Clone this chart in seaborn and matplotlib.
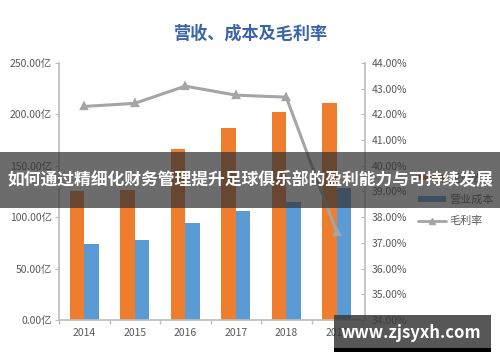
import matplotlib
matplotlib.use("Agg")
import matplotlib.pyplot as plt
from matplotlib.patches import Rectangle, Patch
from matplotlib.lines import Line2D
from matplotlib.ticker import FuncFormatter, MultipleLocator
import pandas as pd
import seaborn as sns

# 数据（单位：亿 / %）
years = ["2014", "2015", "2016", "2017", "2018", "2019"]
revenue = [125, 126, 166, 187, 202, 211]
cost = [74, 78, 94, 106, 115, 128]
margin = [42.31, 42.43, 43.10, 42.75, 42.67, 37.41]

title = "营收、成本及毛利率"
banner = "如何通过精细化财务管理提升足球俱乐部的盈利能力与可持续发展"
site = "www.zjsyxh.com"

sns.set_theme(style="white")
plt.rcParams["font.family"] = ["Noto Sans CJK SC", "DejaVu Sans"]

df = pd.DataFrame({
    "year": years * 2,
    "value": revenue + cost,
    "kind": ["营业收入"] * len(years) + ["营业成本"] * len(years),
})

orange = "#EF7D2E"
blue = "#5B9BD5"
gray = "#A5A5A5"
tick_color = "#595959"
axis_color = "#BFBFBF"

fig = plt.figure(figsize=(5, 3.62), dpi=100)
ax = fig.add_axes([0.118, 0.116, 0.606, 0.71])

sns.barplot(data=df, x="year", y="value", hue="kind", order=years,
            palette=[orange, blue], width=0.58, gap=0, ax=ax,
            legend=False, saturation=1, linewidth=0)
ax.set_ylim(0, 250)
ax.set_xlim(-0.5, len(years) - 0.5)
ax.yaxis.set_major_locator(MultipleLocator(50))
ax.yaxis.set_major_formatter(FuncFormatter(lambda v, p: f"{v:.2f}亿"))
ax.set_xlabel("")
ax.set_ylabel("")

ax2 = ax.twinx()
sns.pointplot(x=years, y=margin, order=years, color=gray, markers="^",
              markersize=5, linewidth=2.2, ax=ax2)
ax2.set_ylim(34, 44)
ax2.yaxis.set_major_locator(MultipleLocator(1))
ax2.yaxis.set_major_formatter(FuncFormatter(lambda v, p: f"{v:.2f}%"))
ax2.set_xlim(-0.5, len(years) - 0.5)
ax2.set_xlabel("")
ax2.set_ylabel("")

for a in (ax, ax2):
    for s in a.spines.values():
        s.set_visible(False)
    a.grid(False)

ax.spines["left"].set_visible(True)
ax.spines["left"].set_color(axis_color)
ax.spines["bottom"].set_visible(True)
ax.spines["bottom"].set_color(axis_color)
ax2.spines["right"].set_visible(True)
ax2.spines["right"].set_color(axis_color)
ax2.spines["right"].set_position(("axes", 1.01))

ax.tick_params(axis="y", colors=tick_color, labelsize=7.5, length=3,
               width=0.8, direction="out", left=True, pad=2)
ax.tick_params(axis="y", which="major", color=axis_color)
ax.set_xticks(range(len(years)))
ax.set_xticklabels(years)
ax.set_xticks([i + 0.5 for i in range(-1, len(years))], minor=True)
ax.tick_params(axis="x", which="major", length=0, labelsize=7.5,
               colors=tick_color, pad=6)
ax.tick_params(axis="x", which="minor", length=3, color=axis_color,
               bottom=True)
ax2.tick_params(axis="y", colors=tick_color, labelsize=7.5, length=3,
                width=0.8, direction="in", right=True, pad=5)
ax2.tick_params(axis="y", color=axis_color)

fig.text(0.5, 0.906, title, ha="center", va="center", fontsize=12.3,
         fontweight="bold", color="#3A63A8")

handles = [
    Patch(facecolor=orange, edgecolor="none"),
    Patch(facecolor=blue, edgecolor="none"),
    Line2D([0], [0], color=gray, lw=2, marker="^", markersize=4),
]
fig.legend(handles, ["营业收入", "营业成本", "毛利率"],
           loc="upper left", bbox_to_anchor=(0.815, 0.548), frameon=False,
           fontsize=8, labelcolor=tick_color, handlelength=2.6,
           handleheight=0.35, labelspacing=1.0, handletextpad=0.3)

# 横幅与水印
fig.add_artist(Rectangle((0, 1 - 208 / 362), 1, 56 / 362,
                         transform=fig.transFigure, facecolor="#333333",
                         alpha=0.72, edgecolor="none", zorder=10))
fig.text(0.5, 1 - 180 / 362, banner, ha="center", va="center",
         fontsize=12.1, fontweight="bold", color="white", zorder=11)

fig.add_artist(Rectangle((334 / 500, 1 - 348 / 362), 157 / 500, 33 / 362,
                         transform=fig.transFigure, facecolor="#3a3a3a",
                         alpha=0.85, edgecolor="none", zorder=10))
fig.add_artist(Rectangle((334 / 500, 1 - 352 / 362), 157 / 500, 4 / 362,
                         transform=fig.transFigure, facecolor="black",
                         edgecolor="none", zorder=10))
fig.text(411 / 500, 1 - 333 / 362, site, ha="center", va="center",
         fontsize=12, fontweight="bold", color="white", zorder=11)

fig.savefig("out.png", dpi=100)
